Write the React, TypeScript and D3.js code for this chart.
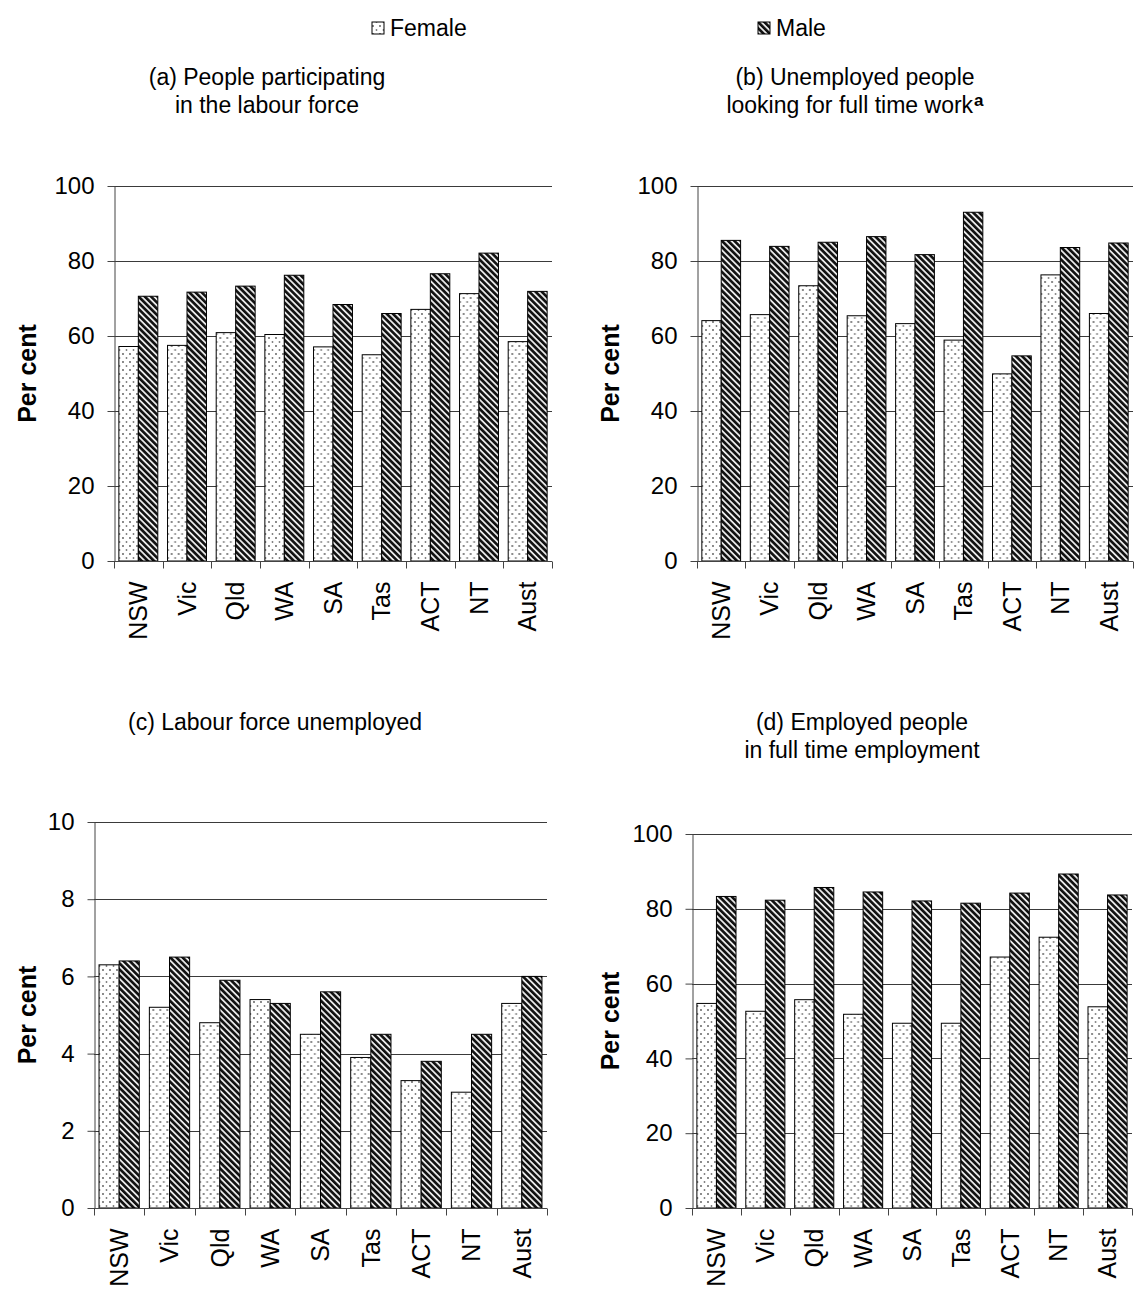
import { useEffect, useRef } from "react";
import * as d3 from "d3";

const states = ["NSW", "Vic", "Qld", "WA", "SA", "Tas", "ACT", "NT", "Aust"];
const sexes = ["Female", "Male"];

// (a) People participating in the labour force
const femaleA = [57.2, 57.5, 60.9, 60.4, 57.1, 55.0, 67.1, 71.3, 58.5];
const maleA = [70.6, 71.7, 73.3, 76.2, 68.4, 66.0, 76.6, 82.1, 71.9];
// (b) Unemployed people looking for full time work
const femaleB = [64.1, 65.7, 73.4, 65.4, 63.3, 58.9, 49.9, 76.3, 66.0];
const maleB = [85.5, 83.9, 85.0, 86.5, 81.7, 93.0, 54.7, 83.6, 84.8];
// (c) Labour force unemployed
const femaleC = [6.3, 5.2, 4.8, 5.4, 4.5, 3.9, 3.3, 3.0, 5.3];
const maleC = [6.4, 6.5, 5.9, 5.3, 5.6, 4.5, 3.8, 4.5, 6.0];
// (d) Employed people in full time employment
const femaleD = [54.7, 52.6, 55.7, 51.8, 49.4, 49.4, 67.1, 72.4, 53.8];
const maleD = [83.3, 82.3, 85.7, 84.5, 82.1, 81.5, 84.2, 89.3, 83.7];

const ticksPct = [0, 20, 40, 60, 80, 100];
const ticksTen = [0, 2, 4, 6, 8, 10];

const FONT = "'Liberation Sans', Arial, sans-serif";

type Panel = {
  title: string[];
  sup?: string;
  titleX: number;
  titleY: number;
  female: number[];
  male: number[];
  ticks: number[];
  left: number;
  right: number;
  top: number;
  bottom: number;
  yTitleX: number;
};

const panels: Panel[] = [
  {
    title: ["(a) People participating", "in the labour force"],
    titleX: 267, titleY: 77,
    female: femaleA, male: maleA, ticks: ticksPct,
    left: 114, right: 552, top: 186, bottom: 561, yTitleX: 27,
  },
  {
    title: ["(b) Unemployed people", "looking for full time work"],
    sup: "a",
    titleX: 855, titleY: 77,
    female: femaleB, male: maleB, ticks: ticksPct,
    left: 697, right: 1133, top: 186, bottom: 561, yTitleX: 610,
  },
  {
    title: ["(c) Labour force unemployed"],
    titleX: 275, titleY: 722,
    female: femaleC, male: maleC, ticks: ticksTen,
    left: 94, right: 547, top: 822, bottom: 1208, yTitleX: 27,
  },
  {
    title: ["(d) Employed people", "in full time employment"],
    titleX: 862, titleY: 722,
    female: femaleD, male: maleD, ticks: ticksPct,
    left: 692, right: 1132, top: 834, bottom: 1208, yTitleX: 610,
  },
];

const App = () => {
  const svgRef = useRef<SVGSVGElement>(null);

  useEffect(() => {
    if (!svgRef.current) return;
    const svg = d3.select(svgRef.current);
    svg.selectAll("*").remove();

    // fill patterns: dotted for female, diagonal hatching for male
    const defs = svg.append("defs");
    const dots = defs
      .append("pattern")
      .attr("id", "dots")
      .attr("patternUnits", "userSpaceOnUse")
      .attr("width", 7)
      .attr("height", 8);
    dots.append("rect").attr("width", 7).attr("height", 8).attr("fill", "#fff");
    dots.append("circle").attr("cx", 2).attr("cy", 2).attr("r", 0.9).attr("fill", "#555");
    dots.append("circle").attr("cx", 5.5).attr("cy", 6).attr("r", 0.9).attr("fill", "#777");

    const stripes = defs
      .append("pattern")
      .attr("id", "stripes")
      .attr("patternUnits", "userSpaceOnUse")
      .attr("width", 4.4)
      .attr("height", 4.4)
      .attr("patternTransform", "rotate(-45)");
    stripes.append("rect").attr("width", 4.4).attr("height", 4.4).attr("fill", "#e8e8e8");
    stripes.append("rect").attr("width", 2.6).attr("height", 4.4).attr("fill", "#111");

    // legend
    const legend = svg.append("g").attr("font-family", FONT).attr("font-size", 23);
    [
      { label: "Female", x: 372, fill: "url(#dots)" },
      { label: "Male", x: 758, fill: "url(#stripes)" },
    ].forEach((d) => {
      legend
        .append("rect")
        .attr("x", d.x)
        .attr("y", 22)
        .attr("width", 12)
        .attr("height", 12)
        .attr("fill", d.fill)
        .attr("stroke", "#000")
        .attr("stroke-width", 1);
      legend
        .append("text")
        .attr("x", d.x + 18)
        .attr("y", 28)
        .attr("dy", "0.35em")
        .text(d.label);
    });

    panels.forEach((p) => {
      const g = svg.append("g").attr("font-family", FONT).attr("fill", "#000");

      const x0 = d3.scaleBand().domain(states).range([p.left, p.right]).padding(0);
      const x1 = d3
        .scaleBand()
        .domain(sexes)
        .range([0, x0.bandwidth()])
        .paddingInner(0)
        .paddingOuter(0.25);
      const y = d3
        .scaleLinear()
        .domain([0, p.ticks[p.ticks.length - 1]])
        .range([p.bottom, p.top]);

      // title
      const title = g
        .append("text")
        .attr("text-anchor", "middle")
        .attr("font-size", 23)
        .attr("fill", "#000");
      p.title.forEach((line, i) => {
        title
          .append("tspan")
          .attr("x", p.titleX)
          .attr("y", p.titleY + i * 28)
          .attr("dy", "0.35em")
          .text(line);
        if (p.sup && i === p.title.length - 1) {
          title
            .append("tspan")
            .attr("dx", 1)
            .attr("dy", -7)
            .attr("font-size", 17)
            .attr("font-weight", "bold")
            .text(p.sup);
        }
      });

      // gridlines
      g.append("g")
        .selectAll("line")
        .data(p.ticks.slice(1))
        .join("line")
        .attr("x1", p.left)
        .attr("x2", p.right)
        .attr("y1", (d) => Math.round(y(d)) + 0.5)
        .attr("y2", (d) => Math.round(y(d)) + 0.5)
        .attr("stroke", "#3a3a3a")
        .attr("stroke-width", 1);

      // bars
      const rows = states.map((s, i) => ({ s, values: [p.female[i], p.male[i]] }));
      g.append("g")
        .selectAll("g")
        .data(rows)
        .join("g")
        .attr("transform", (d) => `translate(${x0(d.s)},0)`)
        .selectAll("rect")
        .data((d) => d.values.map((v, j) => ({ key: sexes[j], v })))
        .join("rect")
        .attr("x", (d) => x1(d.key)!)
        .attr("y", (d) => y(d.v))
        .attr("width", x1.bandwidth())
        .attr("height", (d) => y(0) - y(d.v))
        .attr("fill", (d) => (d.key === "Female" ? "url(#dots)" : "url(#stripes)"))
        .attr("stroke", "#000")
        .attr("stroke-width", 1);

      // y axis
      const yAxis = g
        .append("g")
        .attr("transform", `translate(${p.left + 0.5},0)`)
        .call(
          d3
            .axisLeft(y)
            .tickValues(p.ticks)
            .tickSize(7)
            .tickSizeOuter(0)
            .tickPadding(13)
            .tickFormat(d3.format("d")),
        );
      yAxis.select(".domain").attr("stroke", "#444");
      yAxis.selectAll(".tick line").attr("stroke", "#444");
      yAxis
        .selectAll(".tick text")
        .attr("font-family", FONT)
        .attr("font-size", 24)
        .attr("fill", "#000");

      // x axis
      const base = Math.round(y(0)) + 0.5;
      const xg = g.append("g");
      xg.append("line")
        .attr("x1", p.left)
        .attr("x2", p.right)
        .attr("y1", base)
        .attr("y2", base)
        .attr("stroke", "#444");
      const edges = states.map((s) => x0(s)!).concat([p.right]);
      xg.selectAll("line.tk")
        .data(edges)
        .join("line")
        .attr("class", "tk")
        .attr("x1", (d) => Math.round(d) + 0.5)
        .attr("x2", (d) => Math.round(d) + 0.5)
        .attr("y1", base)
        .attr("y2", base + 7)
        .attr("stroke", "#444");
      xg.selectAll("text")
        .data(states)
        .join("text")
        .attr(
          "transform",
          (d) => `translate(${x0(d)! + x0.bandwidth() / 2},${base + 20}) rotate(-90)`,
        )
        .attr("text-anchor", "end")
        .attr("dy", "0.35em")
        .attr("font-size", 25)
        .text((d) => d);

      // y title
      g.append("text")
        .attr("transform", `translate(${p.yTitleX},${(p.top + p.bottom) / 2}) rotate(-90)`)
        .attr("text-anchor", "middle")
        .attr("dy", "0.35em")
        .attr("font-size", 25)
        .attr("font-weight", "bold")
        .text("Per cent");
    });
  }, []);

  return (
    <svg
      ref={svgRef}
      width={1134}
      height={1289}
      style={{ position: "absolute", left: 0, top: 0, background: "#fff" }}
    ></svg>
  );
};

export default App;
